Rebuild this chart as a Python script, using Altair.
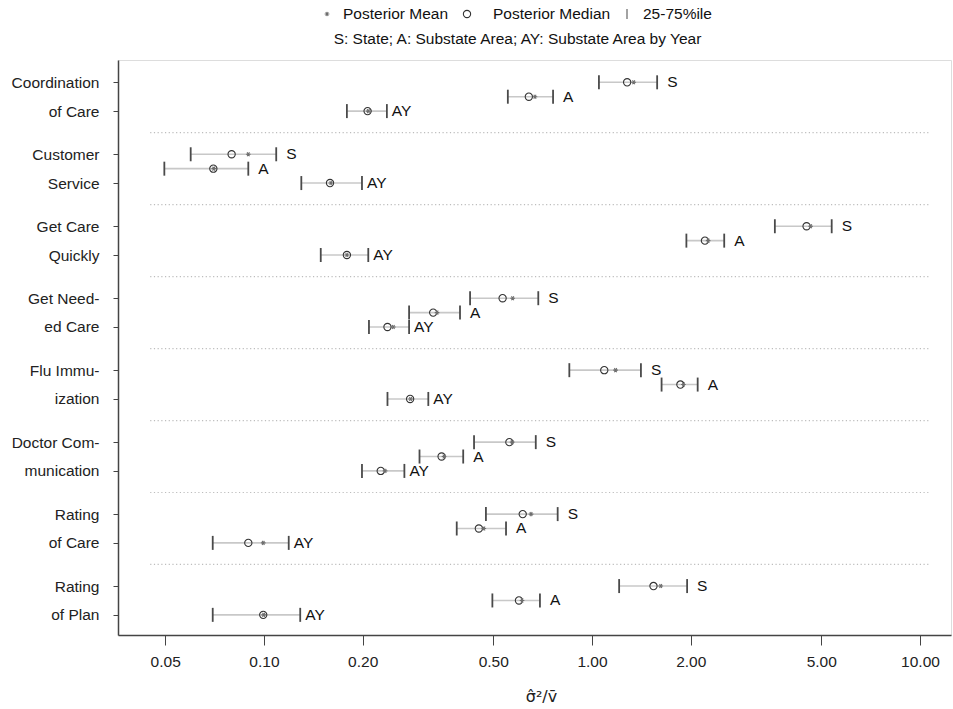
import altair as alt
import pandas as pd

# Two-line group names shown on the left axis
group_top = ["Coordination", "Customer", "Get Care", "Get Need-",
             "Flu Immu-", "Doctor Com-", "Rating", "Rating"]
group_bottom = ["of Care", "Service", "Quickly", "ed Care",
                "ization", "munication", "of Care", "of Plan"]

# Levels within each group: State, Substate Area, Substate Area by Year
levels = ["S", "A", "AY"]

# Posterior summaries of sigma-hat^2 / v-bar, one [S, A, AY] triple per group
q25 = [
    [1.05, 0.554, 0.179],
    [0.0598, 0.0497, 0.130],
    [3.61, 1.94, 0.149],
    [0.425, 0.277, 0.209],
    [0.853, 1.63, 0.238],
    [0.437, 0.298, 0.199],
    [0.475, 0.387, 0.0698],
    [1.21, 0.497, 0.0698],
]
median = [
    [1.28, 0.642, 0.207],
    [0.0797, 0.0701, 0.159],
    [4.51, 2.21, 0.179],
    [0.534, 0.328, 0.238],
    [1.09, 1.86, 0.279],
    [0.560, 0.348, 0.227],
    [0.615, 0.452, 0.0896],
    [1.54, 0.599, 0.0995],
]
mean = [
    [1.34, 0.670, 0.208],
    [0.0896, 0.0703, 0.160],
    [4.64, 2.26, 0.179],
    [0.573, 0.337, 0.248],
    [1.18, 1.90, 0.280],
    [0.571, 0.354, 0.234],
    [0.652, 0.468, 0.0995],
    [1.62, 0.612, 0.0998],
]
q75 = [
    [1.58, 0.761, 0.237],
    [0.109, 0.0896, 0.199],
    [5.38, 2.53, 0.208],
    [0.686, 0.396, 0.277],
    [1.41, 2.10, 0.317],
    [0.674, 0.405, 0.268],
    [0.786, 0.547, 0.119],
    [1.95, 0.694, 0.129],
]

x_ticks = [0.05, 0.1, 0.2, 0.5, 1, 2, 5, 10]

FONT = "Liberation Sans"
FS = 15.5
ASTERISK = "M-1,0L1,0M-0.5,-0.866L0.5,0.866M-0.5,0.866L0.5,-0.866"

# Each group takes five row slots: S, A, AY, then a gap
rows = []
for g in range(len(group_top)):
    for k, lev in enumerate(levels):
        rows.append(dict(pos=g * 5 + k, level=lev,
                         q25=q25[g][k], median=median[g][k],
                         mean=mean[g][k], q75=q75[g][k]))
df = pd.DataFrame(rows)
sep = pd.DataFrame({"pos": [g * 5 + 3.5 for g in range(len(group_top) - 1)]})

# Axis labels: group name split over the S and AY slots
n_slots = len(group_top) * 5
slot_text = [""] * n_slots
label_values = []
for g in range(len(group_top)):
    slot_text[g * 5] = group_top[g]
    slot_text[g * 5 + 2] = group_bottom[g]
    label_values += [g * 5, g * 5 + 2]
label_expr = "[" + ",".join("'" + t + "'" for t in slot_text) + "][datum.value]"

xscale = alt.Scale(type="log", domain=[0.0359, 12.43], nice=False)
yscale = alt.Scale(domain=[-1.55, 38.4], reverse=True, nice=False, zero=False)

x_axis = alt.Axis(values=x_ticks, format=".2f", grid=False, tickSize=10,
                  labelPadding=9, labelFontSize=FS, labelFont=FONT,
                  labelColor="#222", tickColor="#444", domainColor="#444",
                  domainWidth=1.5, labelFlush=False,
                  title="σ̂²/v̄", titleFont="DejaVu Sans", titleFontSize=16,
                  titleFontWeight="normal", titleColor="#222", titlePadding=19,
                  titleX=423, titleAlign="center")
y_axis = alt.Axis(values=label_values, labelExpr=label_expr, grid=False,
                  tickSize=5, labelPadding=14, labelFontSize=FS, labelFont=FONT,
                  labelColor="#222", tickColor="#444", domainColor="#444",
                  domainWidth=1.5, title=None)

X = lambda f: alt.X(f, type="quantitative", scale=xscale, axis=x_axis)
Y = alt.Y("pos:Q", scale=yscale, axis=y_axis)

separators = alt.Chart(sep).mark_rule(
    color="#bdbdbd", strokeDash=[1.2, 2.5], strokeWidth=1.2
).encode(x=alt.datum(0.045, scale=xscale), x2=alt.datum(10.7), y=Y)

base = alt.Chart(df)

interval = base.mark_rule(color="#c8c8c8", strokeWidth=1.6).encode(
    x=X("q25"), x2="q75", y=Y)
cap_lo = base.mark_tick(orient="vertical", size=14, thickness=1.8,
                        color="#4a4a4a", opacity=1).encode(x=X("q25"), y=Y)
cap_hi = base.mark_tick(orient="vertical", size=14, thickness=1.8,
                        color="#4a4a4a", opacity=1).encode(x=X("q75"), y=Y)
med = base.mark_point(shape="circle", size=53, filled=False, color="#333",
                      strokeWidth=1.1, opacity=1).encode(x=X("median"), y=Y)
avg = base.mark_point(shape=ASTERISK, size=22, filled=False, color="#6e6e6e",
                      strokeWidth=1.1, opacity=1).encode(x=X("mean"), y=Y)

lab_sa = base.transform_filter(alt.datum.level != "AY").mark_text(
    align="left", baseline="middle", dx=10, font=FONT, fontSize=FS, color="#111"
).encode(x=X("q75"), y=Y, text="level:N")
lab_ay = base.transform_filter(alt.datum.level == "AY").mark_text(
    align="left", baseline="middle", dx=5, font=FONT, fontSize=FS, color="#111"
).encode(x=X("q75"), y=Y, text="level:N")

# Key above the plot
one = alt.Chart(pd.DataFrame({"k": [0]}))
key_star = one.mark_point(shape=ASTERISK, size=22, filled=False, color="#6e6e6e",
                          strokeWidth=1.1, opacity=1).encode(
    x=alt.value(209), y=alt.value(-46))
key_mean = one.mark_text(text="Posterior Mean", align="left", baseline="middle",
                         font=FONT, fontSize=FS, color="#111").encode(
    x=alt.value(225), y=alt.value(-46))
key_circ = one.mark_point(shape="circle", size=53, filled=False, color="#333",
                          strokeWidth=1.1, opacity=1).encode(
    x=alt.value(349), y=alt.value(-46))
key_med = one.mark_text(text="Posterior Median", align="left", baseline="middle",
                        font=FONT, fontSize=FS, color="#111").encode(
    x=alt.value(375), y=alt.value(-46))
key_bar = one.mark_rule(color="#666", strokeWidth=1.2).encode(
    x=alt.value(509), y=alt.value(-51), y2=alt.value(-41))
key_iqr = one.mark_text(text="25-75%ile", align="left", baseline="middle",
                        font=FONT, fontSize=FS, color="#111").encode(
    x=alt.value(525), y=alt.value(-46))
key_lvl = one.mark_text(text="S: State; A: Substate Area; AY: Substate Area by Year",
                        align="center", baseline="middle",
                        font=FONT, fontSize=FS, color="#111").encode(
    x=alt.value(399.5), y=alt.value(-21))

chart = alt.layer(
    separators, interval, cap_lo, cap_hi, med, avg, lab_sa, lab_ay,
    key_star, key_mean, key_circ, key_med, key_bar, key_iqr, key_lvl
).properties(
    width=833, height=575,
    autosize=alt.AutoSizeParams(type="none"),
    padding={"left": 118, "top": 60, "right": 2, "bottom": 74},
).configure_view(stroke="#808080", strokeWidth=1.5).configure(background="white")

chart.save("out.html", embed_options={"renderer": "svg", "actions": False})
